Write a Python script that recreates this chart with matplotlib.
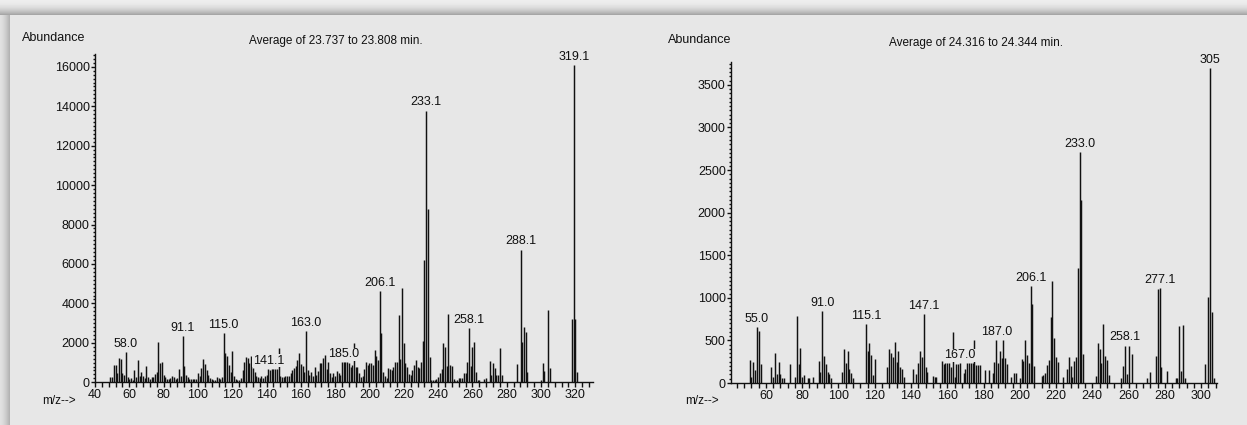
import numpy as np
import matplotlib.pyplot as plt
from matplotlib.ticker import MultipleLocator

plt.rcParams['font.family'] = ['Liberation Sans', 'DejaVu Sans']

# ---- left spectrum: Average of 23.737 to 23.808 min.
mz_left = [49, 50, 51, 52, 53, 54, 55, 56, 57, 58.0, 59, 60, 61, 62, 63, 64, 65, 66, 67, 68,
           69, 70, 71, 72, 73, 74, 75, 76, 77, 78, 79, 80, 81, 82, 83, 84, 85, 86, 87, 88,
           89, 90, 91.1, 92, 93, 94, 95, 96, 97, 98, 99, 100, 101, 102, 103, 104, 105, 106, 107, 108,
           109, 110, 111, 112, 113, 114, 115.0, 116, 117, 118, 119, 120, 121, 122, 123, 124, 125, 126, 127, 128,
           129, 130, 131, 132, 133, 134, 135, 136, 137, 138, 139, 140, 141.1, 142, 143, 144, 145, 146, 147, 148,
           149, 150, 151, 152, 153, 154, 155, 156, 157, 158, 159, 160, 161, 162, 163.0, 164, 165, 166, 167, 168,
           169, 170, 171, 172, 173, 174, 175, 176, 177, 178, 179, 180, 181, 182, 183, 184, 185.0, 186, 187, 188,
           189, 190, 191, 192, 193, 194, 195, 196, 197, 198, 199, 200, 201, 202, 203, 204, 205, 206.1, 207, 208,
           209, 210, 211, 212, 213, 214, 215, 216, 217, 218, 219, 220, 221, 222, 223, 224, 225, 226, 227, 228,
           229, 230, 231, 232, 233.1, 234, 235, 236, 237, 238, 239, 240, 241, 242, 243, 244, 245, 246, 247, 248,
           249, 250, 251, 252, 253, 254, 255, 256, 257, 258.1, 259, 260, 261, 262, 263, 264, 267, 268, 270, 271,
           272, 273, 274, 275, 276, 277, 286, 288.1, 289, 290, 291, 292, 300, 301, 302, 304, 305, 318, 319.1, 320,
           321]
abund_left = [250, 290, 880, 860, 480, 1250, 1200, 470, 350, 1550, 250, 150, 200, 120, 620, 290, 1130, 320, 540, 320,
              200, 830, 250, 150, 250, 290, 400, 540, 2030, 960, 1015, 370, 250, 180, 150, 220, 320, 250, 150, 200,
              680, 320, 2330, 830, 370, 250, 190, 150, 190, 190, 150, 460, 300, 710, 1180, 930, 625, 370, 200, 150,
              100, 120, 250, 200, 150, 250, 2520, 1500, 1330, 880, 500, 1600, 320, 190, 120, 120, 200, 625, 1015, 1300,
              1220, 1000, 1350, 710, 540, 320, 250, 200, 320, 200, 320, 370, 690, 625, 690, 690, 690, 690, 1720, 320,
              250, 250, 320, 320, 320, 460, 625, 710, 830, 1130, 1470, 930, 830, 500, 2600, 640, 380, 540, 320, 790,
              380, 560, 960, 1000, 1250, 1380, 650, 1010, 450, 280, 450, 340, 580, 460, 390, 1040, 1010, 1010, 1010, 1000,
              800, 900, 2000, 790, 790, 450, 290, 300, 660, 1010, 900, 960, 960, 900, 1640, 1330, 1130, 4640, 2480, 540,
              300, 200, 710, 660, 620, 790, 1050, 1050, 3410, 1200, 4790, 1970, 960, 760, 420, 370, 620, 880, 1130, 790,
              700, 1010, 2110, 6190, 13780, 8770, 1270, 120, 100, 120, 150, 290, 450, 660, 1970, 1770, 830, 3440, 880, 830,
              150, 80, 100, 200, 200, 200, 450, 450, 1050, 2770, 830, 1800, 2020, 540, 120, 120, 150, 200, 1080, 370,
              1000, 710, 370, 370, 1750, 370, 910, 6730, 2060, 2780, 2530, 540, 120, 960, 590, 3690, 710, 3200, 16100, 3200,
              540]
labels_left = [58.0, 91.1, 115.0, 141.1, 163.0, 185.0, 206.1, 233.1, 258.1, 288.1, 319.1]
label_text_left = ['58.0', '91.1', '115.0', '141.1', '163.0', '185.0', '206.1', '233.1', '258.1', '288.1', '319.1']

# ---- right spectrum: Average of 24.316 to 24.344 min.
mz_right = [51, 52, 53, 54, 55.0, 56, 57, 63, 64, 65, 66, 67, 68, 69, 70, 73, 76, 77, 78, 79,
            80, 81, 83, 84, 86, 89, 90, 91.0, 92, 93, 94, 95, 96, 102, 103, 104, 105, 106, 107, 108,
            115.1, 116, 117, 118, 119, 120, 127, 128, 129, 130, 131, 132, 133, 134, 135, 136, 141, 143, 144, 145,
            146, 147.1, 148, 149, 152, 153, 154, 157, 158, 159, 160, 161, 162, 163, 164, 165, 166, 167.0, 169, 170,
            171, 172, 173, 174, 175, 176, 177, 178, 181, 183, 185, 186, 187.0, 188, 189, 190, 191, 192, 193, 195,
            197, 198, 200, 201, 202, 203, 204, 205, 206.1, 207, 208, 212, 213, 214, 215, 216, 217, 218, 219, 220,
            221, 224, 226, 227, 228, 229, 230, 231, 232, 233.0, 234, 235, 242, 243, 244, 245, 246, 247, 248, 249,
            256, 257, 258.1, 259, 260, 262, 270, 272, 275, 276, 277.1, 278, 281, 286, 287, 288, 289, 290, 291, 302,
            304, 305, 306, 307]
abund_right = [270, 75, 243, 150, 660, 610, 220, 190, 67, 355, 110, 250, 110, 55, 55, 220, 75, 790, 220, 415,
               75, 95, 55, 55, 75, 260, 130, 840, 320, 220, 130, 110, 55, 130, 400, 240, 370, 170, 120, 55,
               690, 370, 465, 330, 95, 280, 190, 400, 350, 310, 485, 250, 370, 190, 160, 75, 170, 105, 240, 380,
               300, 805, 190, 130, 80, 75, 65, 255, 220, 230, 230, 230, 190, 600, 75, 220, 220, 230, 115, 170,
               230, 230, 230, 230, 500, 210, 210, 210, 150, 150, 115, 250, 505, 230, 380, 290, 505, 290, 220, 75,
               115, 115, 55, 280, 260, 500, 330, 230, 1140, 925, 200, 80, 95, 120, 210, 270, 770, 1200, 525, 310,
               250, 75, 160, 310, 200, 75, 260, 300, 1355, 2715, 2150, 340, 86, 465, 395, 230, 690, 320, 270, 95,
               55, 200, 440, 100, 440, 340, 63, 130, 320, 1100, 1110, 190, 145, 63, 63, 670, 145, 680, 55, 220,
               1005, 3702, 837, 55]
labels_right = [55.0, 91.0, 115.1, 147.1, 167.0, 187.0, 206.1, 233.0, 258.1, 277.1, 305]
label_text_right = ['55.0', '91.0', '115.1', '147.1', '167.0', '187.0', '206.1', '233.0', '258.1', '277.1', '305']

W, H = 1247, 425
bg = '#e7e7e7'
ink = '#111111'

fig = plt.figure(figsize=(W / 100, H / 100), dpi=100, facecolor=bg)

# window shadow along the top and left edge
shade = np.full((H, W), 0.905)
yy = np.arange(15)
shade[:15, :] = (0.93 - 0.28 * (yy / 14.0) ** 2)[:, None]
xx = np.arange(10)
shade[15:, :10] = (0.88 - 0.18 * (xx / 9.0) ** 1.5)[None, :]
bax = fig.add_axes([0, 0, 1, 1], zorder=-5)
bax.imshow(shade, cmap='gray', vmin=0, vmax=1, aspect='auto', interpolation='bilinear')
bax.axis('off')


def px(x0, y0, x1, y1):
    # pixel box (left, top, right, bottom) -> figure fraction rect
    return [x0 / W, 1 - y1 / H, (x1 - x0) / W, (y1 - y0) / H]


def spectrum(rect, mz, ab, lab_mz, lab_txt, xlim, ylim, ystep, yminor, title, title_xy, abund_xy, mz_xy):
    ax = fig.add_axes(rect)
    ax.set_facecolor('none')
    ax.vlines(mz, 0, ab, color=ink, lw=1.05, zorder=2)
    ax.set_xlim(*xlim)
    ax.set_ylim(*ylim)
    for s in ['top', 'right']:
        ax.spines[s].set_visible(False)
    for s in ['left', 'bottom']:
        ax.spines[s].set_color(ink)
        ax.spines[s].set_linewidth(1.0)
    ax.xaxis.set_major_locator(MultipleLocator(20))
    ax.xaxis.set_minor_locator(MultipleLocator(4))
    ax.yaxis.set_major_locator(MultipleLocator(ystep))
    ax.yaxis.set_minor_locator(MultipleLocator(yminor))
    ax.tick_params(axis='x', which='major', length=3.5, width=1, color=ink, labelsize=9, pad=1.5, labelcolor=ink)
    ax.tick_params(axis='x', which='minor', length=3.5, width=1, color=ink)
    ax.tick_params(axis='y', which='major', length=3, width=1, color=ink, labelsize=9, pad=0.8, labelcolor=ink)
    ax.tick_params(axis='y', which='minor', length=1.5, width=1, color=ink)
    for m, t in zip(lab_mz, lab_txt):
        h = ab[mz.index(m)]
        ax.annotate(t, xy=(m, h), xytext=(0, 1.5), textcoords='offset points', ha='center', va='bottom',
                    fontsize=9, color=ink, zorder=4, annotation_clip=False,
                    bbox=dict(boxstyle='square,pad=0.05', fc=bg, ec='none'))
    fig.text(title_xy[0] / W, 1 - title_xy[1] / H, title, ha='center', va='center', fontsize=8.5, color=ink)
    fig.text(abund_xy[0] / W, 1 - abund_xy[1] / H, 'Abundance', ha='left', va='center', fontsize=9, color=ink)
    fig.text(mz_xy[0] / W, 1 - mz_xy[1] / H, 'm/z-->', ha='left', va='center', fontsize=8.5, color=ink)
    return ax


spectrum(px(95, 54.3, 593, 382.3), mz_left, abund_left, labels_left, label_text_left,
         (40, 330.3), (0, 16630), 2000, 200, 'Average of 23.737 to 23.808 min.',
         (336, 41), (22, 38), (42, 401))

spectrum(px(731, 61.7, 1217, 383), mz_right, abund_right, labels_right, label_text_right,
         (40.7, 308.8), (0, 3772), 500, 50, 'Average of 24.316 to 24.344 min.',
         (976, 43), (668, 40), (685, 401))

fig.savefig('out.png', dpi=100, facecolor=bg)
